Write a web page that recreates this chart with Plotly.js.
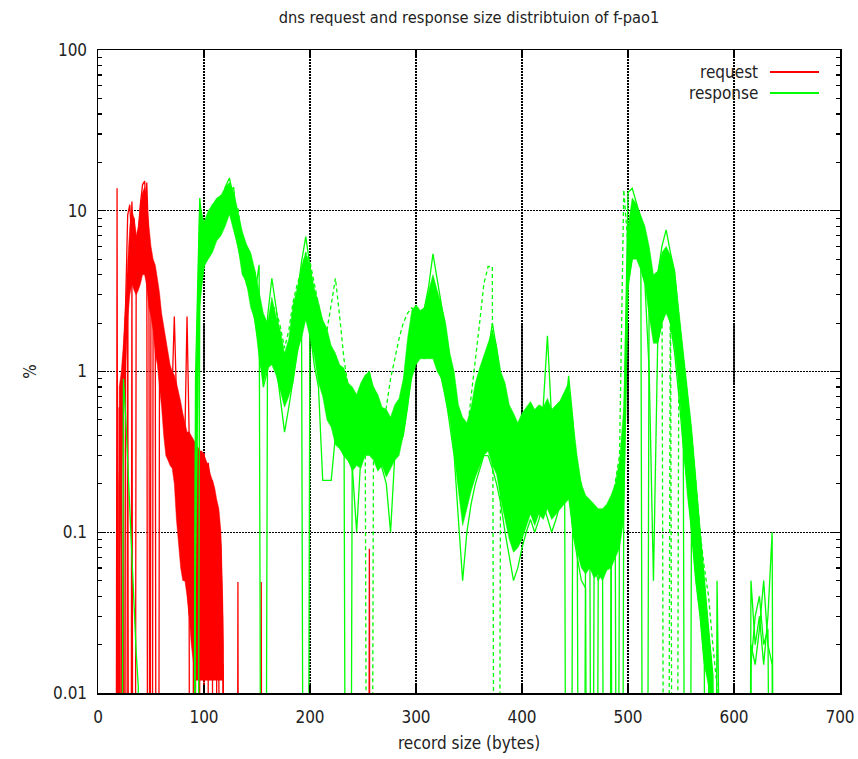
<!DOCTYPE html>
<html>
<head>
<meta charset="utf-8">
<script src="https://cdn.plot.ly/plotly-3.0.1.min.js"></script>
<style>html,body{margin:0;padding:0;background:#fff;}#chart{width:858px;height:759px;}</style>
</head>
<body>
<div id="chart"></div>
<script>
// ---- response (green) : record sizes in bytes, values in %
const respSizes = [88,92,96,100,104,108,112,116,120,124,
  128,132,136,140,144,148,152,156,160,164,
  168,172,176,180,184,188,192,196,200,204,
  208,212,216,220,224,228,232,236,240,244,
  248,252,256,260,264,268,272,276,280,284,
  288,292,296,300,304,308,312,316,320,324,
  328,332,336,340,344,348,352,356,360,364,
  368,372,376,380,384,388,392,396,400,404,
  408,412,416,420,424,428,432,436,440,444,
  448,452,456,460,464,468,472,476,480,484,
  488,492,496,500,504,508,512,516,520,524,
  528,532,536,540,544,548,552,556,560,564,
  568,572,576,580,584,588,592,596,600,604,
  608,612,616,620,624,628,632,636,640];
// lower / upper edge of the dense band of daily response curves
const respLo = [0,0.05,2.5,4.5,5,5.5,6.5,7,8,9.5,
  7.5,6,4,3.6,2.5,2.1,1.2,0.85,1.05,1.1,
  0.95,0.75,0.6,0.7,0.85,1.35,1.6,2.1,1.6,1.25,
  0.85,0.7,0.5,0.45,0.35,0.33,0.3,0.28,0.24,0.26,
  0.25,0.3,0.3,0.28,0.24,0.26,0.22,0.25,0.28,0.3,
  0.4,0.6,0.9,1.1,1.2,1.2,1.2,1.2,1.0,0.9,
  0.65,0.5,0.3,0.18,0.11,0.14,0.18,0.22,0.26,0.3,
  0.32,0.26,0.23,0.16,0.12,0.09,0.075,0.08,0.09,0.11,
  0.13,0.11,0.13,0.12,0.14,0.12,0.13,0.14,0.15,0.16,
  0.1,0.075,0.06,0.055,0.06,0.052,0.055,0.05,0.058,0.06,
  0.07,0.08,0.12,3.2,5,5,4.3,3.5,2.2,1.5,
  1.5,2.0,2.3,2,1.4,0.8,0.35,0.17,0.1,0.05,
  0.03,0.015,0.011,0,0,0,0,0,0,0,
  0,0,0,0,0,0,0,0,0];
const respHi = [0,0.8,11,8.5,10,11,12,12.5,14,15,
  13,10,7.5,6.2,5.5,4.3,3.1,2.3,2.0,2.9,
  2.2,1.8,1.3,1.6,2.6,3.3,4.5,5.5,4.5,3.3,
  2.7,2.1,1.85,1.45,1.3,1.1,1.05,0.85,0.8,0.72,
  0.85,0.95,1.0,0.8,0.72,0.6,0.58,0.52,0.62,0.68,
  0.9,1.6,2.4,2.6,2.4,2.5,3.2,4.0,3.2,2.6,
  2.0,1.3,1.0,0.62,0.52,0.48,0.6,0.85,1.05,1.25,
  1.5,1.8,1.45,1.0,0.85,0.62,0.55,0.48,0.55,0.6,
  0.65,0.58,0.62,0.6,0.68,0.58,0.62,0.66,0.75,0.85,
  0.5,0.3,0.2,0.17,0.16,0.15,0.14,0.14,0.15,0.17,
  0.2,0.28,0.6,8,12,11,9.5,8,6,4,
  4.2,5.5,6,5.3,4.2,2.4,1.3,0.8,0.45,0.22,
  0.1,0.05,0.025,0.013,0,0,0,0,0,0,
  0,0,0,0,0,0,0,0,0];
// individual response curves
const respA = [0,0.9,12,6,9,8,11,10,14,16,
  12,9,7,5,5.2,3,4.6,0,2.2,3.8,
  2.5,1.5,1.2,1.4,2.2,3.0,4.8,6.9,4.5,3.0,
  2.3,1.7,1.3,1.0,0.9,1.0,0.8,0,0.7,0.6,
  0.7,0.85,1.0,0.7,0.6,0.5,0.45,0.5,0.55,0.6,
  0.8,1.3,2.0,2.4,1.8,2.5,3.4,5.4,3.8,2.6,
  1.8,1.2,0.8,0.5,0.4,0.35,0.5,0.7,0.9,1.1,
  1.3,2.0,1.4,0.9,0.7,0.5,0.4,0.3,0.35,0.45,
  0.5,0.4,0.35,0.5,0.45,0.4,0.5,0.55,0.7,0,
  0.4,0.25,0.15,0.13,0.12,0.1,0.09,0.1,0.12,0.14,
  0.18,0.25,0.4,13,13.8,11,9,0,5,3.2,
  4.0,6,7.6,5.5,4.2,2.2,1.2,0.7,0.4,0.2,
  0.09,0.05,0.025,0.013,0,0,0,0,0,0,
  0,0,0.015,0.03,0.04,0.02,0.025,0,0];
const respB = [0,0.3,7,8.5,6,11,8,12.5,11,13,
  14,7,6.5,6,3.5,4.2,2,1.5,1.3,2.4,
  1.6,1.1,0.8,1.0,1.5,2.2,2.8,0,3.5,2.5,
  1.8,1.4,1.1,0.9,0.7,0.6,0.65,0.5,0.45,0.5,
  0.6,0.7,0.75,0.8,0.55,0.5,0.5,0.45,0.5,0.55,
  0.7,1.2,1.8,1.6,2.3,1.7,2.4,3.0,2.4,1.8,
  1.3,0.9,0.6,0.35,0.25,0.2,0.3,0.45,0.6,0.8,
  0.9,1.0,0.8,0.6,0.4,0.3,0.2,0.18,0.2,0.3,
  0.25,0.35,0.3,0.6,1.67,0.5,0.3,0.35,0.5,0.94,
  0.5,0.2,0,0.1,0.09,0,0.08,0.1,0.09,0.11,
  0,0.15,0.3,5,10,9,6,5,3.5,2.5,
  2.8,4,5,4,2.8,1.5,0.8,0,0.25,0.12,
  0.06,0.03,0.015,0,0,0,0,0,0,0,
  0,0,0.02,0.015,0.025,0.05,0.02,0.015,0];
const respC = [0,0,3,4.5,5.5,6,7,8,9,10,
  8,6,4.5,3.5,3,2.1,1.4,0.8,1,1.3,
  1.1,0.7,0.42,0.6,0.9,1.3,1.8,2.2,1.8,1.1,
  0.8,0.21,0.21,0.21,0.4,0.35,0.3,0.28,0.25,0.1,
  0.3,0.35,0.4,0.35,0.3,0.25,0.2,0.1,0.3,0.35,
  0.4,0.6,1.0,1.2,1.3,1.2,1.5,1.7,1.2,0.9,
  0.7,0.45,0.3,0.12,0.05,0.1,0.15,0.2,0.25,0.3,
  0.3,0.25,0.2,0.15,0.1,0.07,0.05,0.06,0.08,0.1,
  0.12,0.1,0.12,0.15,0.12,0.1,0.12,0.15,0.2,0.2,
  0.1,0.07,0.05,0.045,0,0.06,0.05,0.06,0,0.07,
  0.08,0,0.15,3.5,5,5.5,4.5,3.5,1.0,0.05,
  1.5,2.0,2.5,2.0,1.3,0.7,0.35,0.2,0.1,0.05,
  0.03,0.015,0,0,0.05,0,0,0,0,0,
  0,0,0.05,0.02,0.03,0.015,0.03,0.1,0];
const respD = [0,0.1,11,7,8,9,12,11,13,14,
  10,10.5,6,5.5,4,3.5,2.5,2,1.8,2.6,
  2.4,1.9,1.4,1.8,2.7,3.5,4.2,5.5,4.8,3.5,
  2.6,2.0,1.8,2.6,3.8,2.2,1.2,0.8,0.6,0.5,
  0.6,0.7,0,0.6,0.5,0.45,0.6,0.9,1.2,1.6,
  2.0,2.3,2.5,2.2,1.9,2.1,2.8,3.6,2.9,2.2,
  1.6,1.1,0.7,0.45,0.35,0.4,0.7,1.15,2.0,3.5,
  4.5,4.5,0,0.8,0.6,0.45,0.35,0.3,0.4,0.5,
  0.45,0.3,0.4,0.35,0.5,0.45,0.35,0.5,0.6,0.7,
  0.4,0.25,0.2,0.15,0.12,0.13,0.1,0.11,0.12,0.14,
  0.2,0.3,13.5,6,9,8,7,6,4,3,
  3.5,5,0,5,0,2.0,1.2,0.7,0.4,0.2,
  0.1,0.06,0.04,0.02,0.011,0,0,0,0,0,
  0,0,0,0,0,0,0,0,0];
const respEarlySizes = [20,24,26,28,30,32,34,36,38,40];
const respEarly = [0,0.9,0.55,0.28,0.12,0.06,0.03,0.018,0.011,0];

// ---- request (red)
const reqSizes = [14,16,18,20,22,24,26,28,30,32,
  34,36,38,40,42,44,46,48,50,52,
  54,56,58,60,62,64,66,68,70,72,
  74,76,78,80,82,84,86,88,90,92,
  94,96,98,100,102,104,106,108,110,112,
  114,116,118,120,122,124];
const reqLo = [0,0,0,0.05,0.2,0.5,1.0,2.1,3,3.5,
  3.2,3,3.2,3.5,4,4,3.4,2.5,2.2,1.8,
  1.3,1.1,0.8,0.6,0.4,0.3,0.28,0.26,0.25,0.2,
  0.12,0.08,0.06,0.05,0.05,0.04,0.03,0.02,0.015,0.012,
  0.012,0.012,0.012,0.012,0.012,0.012,0.012,0.012,0.012,0.012,
  0.012,0.012,0.012,0,0,0];
const reqHi = [0,0,0,0.8,1.0,1.5,3.0,4.8,8,10,
  9,7,8,11,13,14,11,8,6,5,
  4.6,3.8,3.1,2.3,1.9,1.6,1.3,1.1,1.0,0.95,
  0.85,0.75,0.65,0.55,0.48,0.42,0.42,0.4,0.38,0.36,
  0.34,0.32,0.32,0.3,0.28,0.26,0.23,0.21,0.19,0.16,
  0.14,0.1,0.03,0,0,0];
const reqA = [0,0,13.8,0,0.8,1.2,2.5,9.4,10.9,6,
  9,6.1,7,11,14.5,15.3,9,0,4.6,4,
  3.5,3.1,2.5,2.1,1.7,1.3,1.1,0.95,0.8,2.2,
  0.7,0.6,0.5,0.45,0.4,2.2,0.4,0.35,0.3,0.35,
  0.3,0.32,0.3,0.31,0.25,0.27,0.2,0.21,0.15,0.14,
  0.12,0.08,0.02,0,0,0];
const reqB = [0,0,0,0.6,0,0.6,0,2.5,4,11.4,
  4,5,4,5,6,5,15,6,0,3,
  2,0,1.2,0.8,0.9,0.6,0.4,0.5,0.3,0.4,
  0.25,0.15,0.1,0.06,0.05,0.05,0.03,0,0.02,0.015,
  0,0.02,0.015,0.02,0,0.015,0.02,0.015,0,0.015,
  0.012,0,0,0,0,0];
const reqC = [0,0,0,0.2,0.5,0,1.5,3,0,5,
  0,3.5,6,4,9,12,4,3,5,2.5,
  4,1.5,2,1.5,0.5,1,0.8,0.6,0.9,0.5,
  0.3,0.5,0.3,0.2,0.3,0.15,0.2,0.1,0.15,0.1,
  0.05,0.1,0.06,0.08,0.05,0.04,0.06,0.03,0.04,0.03,
  0.02,0.015,0.015,0,0,0];
const reqSparseSizes = [130,132,134,152,154,156,254,256,258];
const reqSparse = [0,0.049,0,0,0.049,0,0,0.079,0];

// axis ticks
const xTicks = [0,100,200,300,400,500,600,700];
const yTicks = [0.01,0.1,1,10,100];
const yTickText = ['0.01','0.1','1','10','100'];
const yMinor = [0.02,0.03,0.04,0.05,0.06,0.07,0.08,0.09,0.2,0.3,0.4,0.5,0.6,0.7,0.8,0.9,
  2,3,4,5,6,7,8,9,20,30,40,50,60,70,80,90];

const RED = '#ff0000', GREEN = '#00ff00';
const FONT = '"Liberation Sans Narrow","DejaVu Sans Condensed","Arial Narrow",Arial,sans-serif';
const FS = 17;
// zero counts fall off the bottom of a log axis: draw them far below the range
const z = a => a.map(v => v > 0 ? v : 1e-9);

function line(x, y, color, dash, width) {
  return {x: x, y: z(y), type: 'scatter', mode: 'lines', showlegend: false, hoverinfo: 'skip',
    line: {color: color, width: width || 1.3, dash: dash || 'solid'}};
}
function band(x, lo, hi, color) {
  return [
    {x: x, y: z(lo), type: 'scatter', mode: 'lines', showlegend: false, hoverinfo: 'skip',
     line: {color: color, width: 0.5}},
    {x: x, y: z(hi), type: 'scatter', mode: 'lines', showlegend: false, hoverinfo: 'skip',
     fill: 'tonexty', fillcolor: color, line: {color: color, width: 0.5}}
  ];
}

const traces = [].concat(
  band(reqSizes, reqLo, reqHi, RED),
  [line(reqSizes, reqA, RED), line(reqSizes, reqB, RED), line(reqSizes, reqC, RED),
   line(reqSparseSizes, reqSparse, RED)],
  band(respSizes, respLo, respHi, GREEN),
  [line(respSizes, respA, GREEN), line(respSizes, respB, GREEN), line(respSizes, respC, GREEN),
   line(respSizes, respD, GREEN, '4px,3px'), line(respEarlySizes, respEarly, GREEN)]
);

const L = Math.log10;
const solidTops = [[100, 10], [200, 5.2], [300, 3.1], [400, 3.1], [500, 3.0], [600, 6.7]];
const shapes = solidTops.map(([x, y]) => ({type: 'line', xref: 'x', yref: 'y', layer: 'below',
  x0: x, x1: x, y0: L(y), y1: 2, line: {color: '#000', width: 1.5}}));
// legend samples
shapes.push({type: 'line', xref: 'paper', yref: 'paper', x0: 0.9057, x1: 0.9717, y0: 0.9658, y1: 0.9658,
  line: {color: RED, width: 2}});
shapes.push({type: 'line', xref: 'paper', yref: 'paper', x0: 0.9057, x1: 0.9717, y0: 0.9331, y1: 0.9331,
  line: {color: GREEN, width: 2}});

const tf = {family: FONT, size: FS, color: '#222'};
const layout = {
  width: 858, height: 759,
  margin: {l: 98, r: 18, t: 50, b: 66},
  paper_bgcolor: '#fff', plot_bgcolor: '#fff',
  font: tf,
  showlegend: false,
  title: {text: 'dns request and response size distribtuion of f-pao1', x: 0.5, xref: 'paper',
    y: 1 - 17 / 759, yanchor: 'middle', font: {family: FONT, size: 16.3, color: '#222'}},
  xaxis: {range: [0, 700], tickmode: 'array', tickvals: xTicks, ticks: 'inside', ticklen: 8,
    tickwidth: 1.3, tickcolor: '#000', showline: true, linecolor: '#000', linewidth: 1.5, mirror: 'ticks',
    showgrid: true, gridcolor: '#000', gridwidth: 1.2, griddash: '1.5px,1.5px', zeroline: false,
    tickfont: tf, ticklabelstandoff: 8,
    title: {text: 'record size (bytes)', standoff: 11, font: tf}},
  yaxis: {type: 'log', range: [-2, 2], tickmode: 'array', tickvals: yTicks, ticktext: yTickText,
    ticks: 'inside', ticklen: 8, tickwidth: 1.3, tickcolor: '#000', showline: true, linecolor: '#000',
    linewidth: 1.5, mirror: 'ticks', showgrid: true, gridcolor: '#000', gridwidth: 1.2,
    griddash: '1.5px,1.5px', zeroline: false, tickfont: tf, ticklabelstandoff: 6,
    minor: {tickmode: 'array', tickvals: yMinor, ticks: 'inside', ticklen: 4, tickcolor: '#000',
      tickwidth: 1.2, showgrid: false},
    title: {text: '%', standoff: 12, font: tf}},
  shapes: shapes,
  annotations: [
    {text: 'request', xref: 'paper', yref: 'paper', x: 0.892, y: 0.9658, xanchor: 'right', yanchor: 'middle',
     showarrow: false, font: tf},
    {text: 'response', xref: 'paper', yref: 'paper', x: 0.892, y: 0.9331, xanchor: 'right', yanchor: 'middle',
     showarrow: false, font: tf}
  ]
};

Plotly.newPlot('chart', traces, layout, {displayModeBar: false, staticPlot: true});
</script>
</body>
</html>
